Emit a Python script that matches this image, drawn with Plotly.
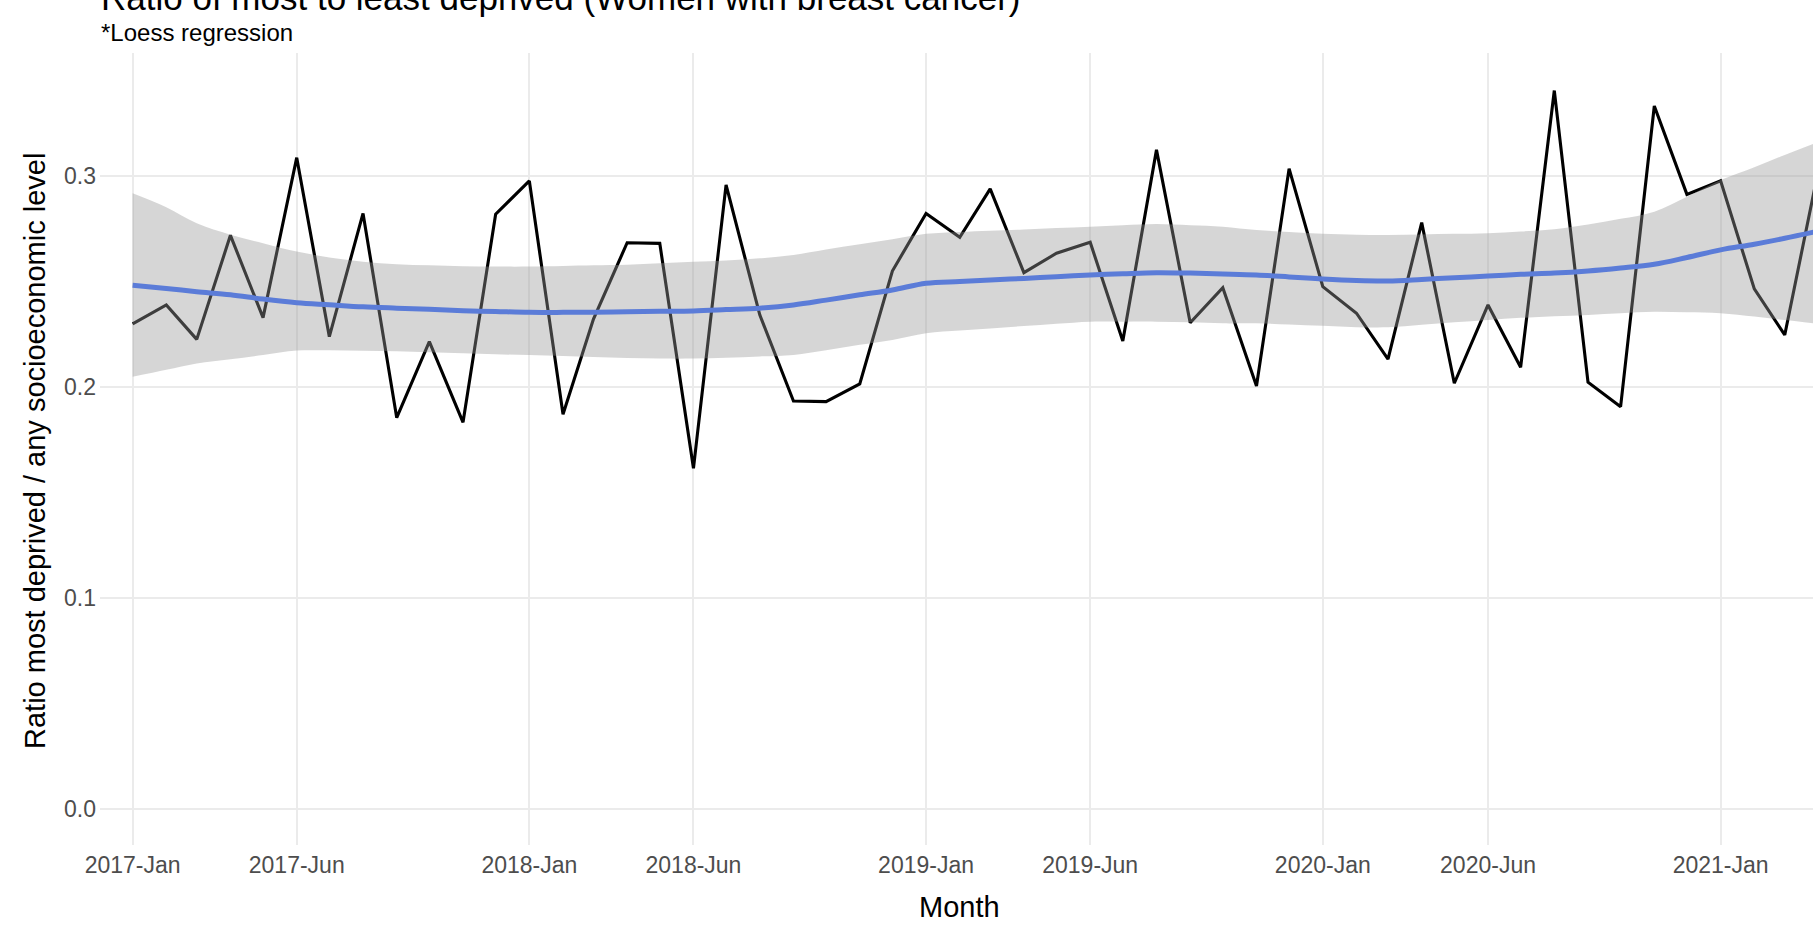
import pandas as pd
import plotly.graph_objects as go

months = [d.strftime("%Y-%m-%d") for d in pd.date_range("2017-01-01", "2021-04-01", freq="MS")]

ratio = [
    0.2297, 0.2387, 0.2224, 0.2717, 0.2327, 0.3085, 0.2237, 0.2821, 0.1853, 0.2213, 0.1831, 0.2817,
    0.2975, 0.1869, 0.2320, 0.2682, 0.2679, 0.1613, 0.2956, 0.2340, 0.1932, 0.1929, 0.2013, 0.2548,
    0.2821, 0.2708, 0.2937, 0.2540, 0.2632, 0.2684, 0.2216, 0.3122, 0.2303, 0.2469, 0.2003, 0.3033,
    0.2474, 0.2348, 0.2130, 0.2777, 0.2016, 0.2387, 0.2092, 0.3403, 0.2021, 0.1905, 0.3330, 0.2911,
    0.2975, 0.2463, 0.2245, 0.3027,
]

loess_fit = [
    0.2480, 0.2465, 0.2450, 0.2435, 0.2415, 0.2398, 0.2388, 0.2378, 0.2372, 0.2367, 0.2360, 0.2356,
    0.2352, 0.2352, 0.2353, 0.2355, 0.2357, 0.2359, 0.2365, 0.2372, 0.2387, 0.2410, 0.2435, 0.2458,
    0.2490, 0.2498, 0.2505, 0.2513, 0.2521, 0.2529, 0.2535, 0.2540, 0.2538, 0.2534, 0.2529, 0.2520,
    0.2510, 0.2503, 0.2501, 0.2508, 0.2516, 0.2524, 0.2532, 0.2538, 0.2548, 0.2562, 0.2580, 0.2612,
    0.2648, 0.2675, 0.2703, 0.2737,
]
loess_lower = [
    0.2047, 0.2080, 0.2110, 0.2130, 0.2150, 0.2171, 0.2172, 0.2170, 0.2168, 0.2163, 0.2158, 0.2153,
    0.2150, 0.2145, 0.2140, 0.2136, 0.2133, 0.2133, 0.2137, 0.2143, 0.2150, 0.2172, 0.2198, 0.2221,
    0.2253, 0.2266, 0.2276, 0.2287, 0.2298, 0.2308, 0.2308, 0.2308, 0.2305, 0.2300, 0.2300, 0.2294,
    0.2288, 0.2282, 0.2281, 0.2293, 0.2305, 0.2316, 0.2326, 0.2333, 0.2340, 0.2348, 0.2355, 0.2352,
    0.2348, 0.2332, 0.2316, 0.2298,
]
loess_upper = [
    0.2916, 0.2850, 0.2774, 0.2720, 0.2680, 0.2640, 0.2612, 0.2592, 0.2580, 0.2575, 0.2571, 0.2569,
    0.2569, 0.2572, 0.2575, 0.2578, 0.2585, 0.2592, 0.2598, 0.2608, 0.2624, 0.2650, 0.2675, 0.2698,
    0.2724, 0.2733, 0.2739, 0.2745, 0.2752, 0.2758, 0.2765, 0.2771, 0.2765, 0.2758, 0.2742, 0.2733,
    0.2724, 0.2720, 0.2719, 0.2721, 0.2724, 0.2727, 0.2735, 0.2746, 0.2768, 0.2795, 0.2829, 0.2900,
    0.2979, 0.3040, 0.3098, 0.3160,
]

tick_dates = ["2017-01-01", "2017-06-01", "2018-01-01", "2018-06-01", "2019-01-01",
              "2019-06-01", "2020-01-01", "2020-06-01", "2021-01-01"]
tick_labels = ["2017-Jan", "2017-Jun", "2018-Jan", "2018-Jun", "2019-Jan",
               "2019-Jun", "2020-Jan", "2020-Jun", "2021-Jan"]
y_ticks = [0.0, 0.1, 0.2, 0.3]
y_labels = ["0.0", "0.1", "0.2", "0.3"]

title = "Ratio of most to least deprived (Women with breast cancer)"
subtitle = "*Loess regression"
x_title = "Month"
y_title = "Ratio most deprived / any socioeconomic level"

FONT = "Liberation Sans, Arial, sans-serif"
W, H = 1813, 934
ML, MR, MT, MB = 100, 0, 53, 934 - 845
PH = H - MT - MB

fig = go.Figure()
fig.add_trace(go.Scatter(x=months, y=ratio, mode="lines",
                         line=dict(color="black", width=3.1), hoverinfo="skip", showlegend=False))
fig.add_trace(go.Scatter(x=months, y=loess_upper, mode="lines", line=dict(width=0, shape="spline"),
                         hoverinfo="skip", showlegend=False))
fig.add_trace(go.Scatter(x=months, y=loess_lower, mode="lines", line=dict(width=0, shape="spline"),
                         fill="tonexty", fillcolor="rgba(153,153,153,0.4)",
                         hoverinfo="skip", showlegend=False))
fig.add_trace(go.Scatter(x=months, y=loess_fit, mode="lines",
                         line=dict(color="#5B7CD8", width=5, shape="spline"),
                         hoverinfo="skip", showlegend=False))

def py(p):
    return (H - MB - p) / PH

fig.update_layout(
    width=W, height=H, autosize=False,
    margin=dict(l=ML, r=MR, t=MT, b=MB, pad=0),
    paper_bgcolor="white", plot_bgcolor="white",
    font=dict(family=FONT, color="#4D4D4D"),
    showlegend=False,
    xaxis=dict(type="date", range=["2016-12-02", "2021-03-27"],
               tickmode="array", tickvals=tick_dates, ticktext=tick_labels,
               showgrid=True, gridcolor="#EBEBEB", gridwidth=1.6,
               zeroline=False, showline=False, ticks="",
               tickfont=dict(size=23, color="#4D4D4D", family=FONT),
               ticklabelstandoff=4),
    yaxis=dict(range=[-0.0172, 0.3581],
               tickmode="array", tickvals=y_ticks, ticktext=y_labels,
               showgrid=True, gridcolor="#EBEBEB", gridwidth=1.6,
               zeroline=False, showline=False, ticks="",
               tickfont=dict(size=23, color="#4D4D4D", family=FONT),
               ticklabelstandoff=3),
    annotations=[
        dict(text=title, xref="paper", yref="paper", x=0, y=py(-2.8), xanchor="left", yanchor="middle",
             xshift=-1, showarrow=False, font=dict(size=35, color="black", family=FONT)),
        dict(text=subtitle, xref="paper", yref="paper", x=0, y=py(32.4), xanchor="left", yanchor="middle",
             xshift=-1, showarrow=False, font=dict(size=24, color="black", family=FONT)),
        dict(text=x_title, xref="paper", yref="paper", x=0.5, y=py(907), xanchor="center", yanchor="middle",
             xshift=3, showarrow=False, font=dict(size=29, color="black", family=FONT)),
        dict(text=y_title, xref="paper", yref="paper", x=-(ML - 35) / (W - ML - MR), y=py(451),
             xanchor="center", yanchor="middle", textangle=-90,
             showarrow=False, font=dict(size=29, color="black", family=FONT)),
    ],
)

fig.write_html("out.html", config={"displayModeBar": False},
               post_script="document.body.style.margin='0';")
